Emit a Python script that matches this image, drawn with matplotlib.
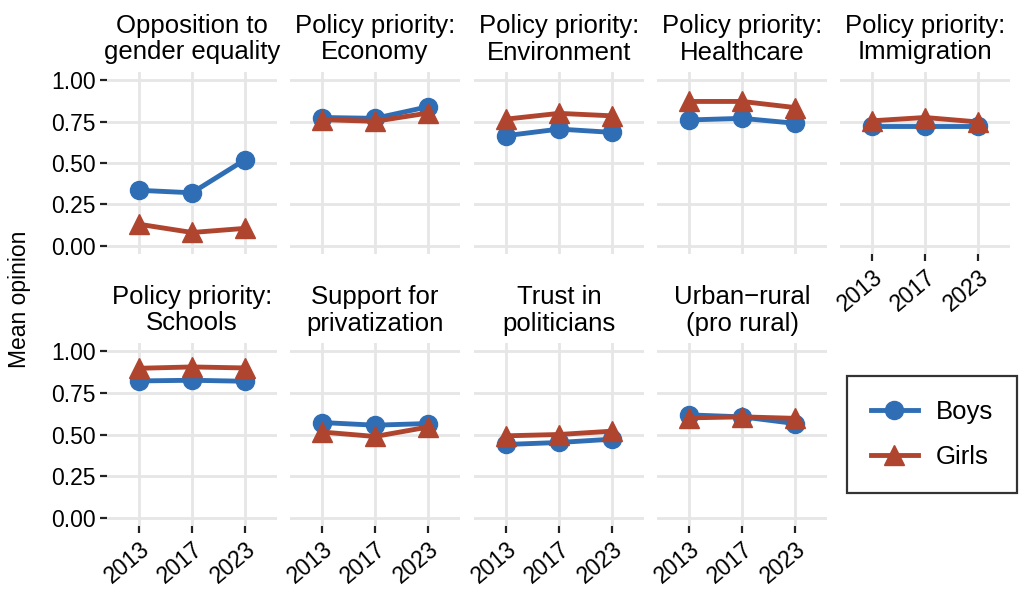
import matplotlib.pyplot as plt
from matplotlib.lines import Line2D

plt.rcParams['font.family'] = ['Liberation Sans', 'DejaVu Sans']

years = ["2013", "2017", "2023"]
titles = [
    "Opposition to\ngender equality",
    "Policy priority:\nEconomy",
    "Policy priority:\nEnvironment",
    "Policy priority:\nHealthcare",
    "Policy priority:\nImmigration",
    "Policy priority:\nSchools",
    "Support for\nprivatization",
    "Trust in\npoliticians",
    "Urban\u2212rural\n(pro rural)",
]
boys = [
    [0.335, 0.320, 0.520],
    [0.775, 0.770, 0.840],
    [0.665, 0.705, 0.685],
    [0.760, 0.770, 0.740],
    [0.725, 0.725, 0.725],
    [0.822, 0.826, 0.820],
    [0.572, 0.556, 0.566],
    [0.440, 0.452, 0.472],
    [0.618, 0.606, 0.566],
]
girls = [
    [0.130, 0.080, 0.105],
    [0.762, 0.752, 0.802],
    [0.765, 0.800, 0.785],
    [0.872, 0.872, 0.835],
    [0.755, 0.775, 0.748],
    [0.898, 0.906, 0.900],
    [0.515, 0.488, 0.545],
    [0.492, 0.500, 0.520],
    [0.600, 0.606, 0.597],
]

blue = "#2f6eb5"
red = "#b0452f"
grid_col = "#e6e6e6"

W, H = 1024, 599
fig = plt.figure(figsize=(W / 100, H / 100), dpi=100)

col_left = [107, 290, 474, 657, 840]
pw = 170
rows = [(72, 254), (343, 526)]

xs = range(len(years))
for i, title in enumerate(titles):
    r, c = divmod(i, 5)
    top, bot = rows[r]
    ax = fig.add_axes([col_left[c] / W, 1 - bot / H, pw / W, (bot - top) / H])
    ax.set_xlim(-0.6, 2.6)
    ax.set_ylim(-0.05, 1.05)
    ax.set_yticks([0, 0.25, 0.5, 0.75, 1.0])
    ax.set_xticks(list(xs))
    ax.grid(True, color=grid_col, linewidth=2)
    ax.set_axisbelow(True)
    for s in ax.spines.values():
        s.set_visible(False)
    ax.plot(xs, boys[i], color=blue, lw=3.5, marker="o", ms=13, zorder=3)
    ax.plot(xs, girls[i], color=red, lw=3.5, marker="^", ms=14, zorder=4)
    ax.set_title(title, fontsize=18.5, pad=9, linespacing=1.12)
    ax.tick_params(axis="both", length=5, width=1.6, color="#222222",
                   labelsize=16.5, pad=3)
    if c == 0:
        ax.set_yticklabels(["0.00", "0.25", "0.50", "0.75", "1.00"])
    else:
        ax.tick_params(axis="y", length=0, labelleft=False)
    if r == 1 or c == 4:
        ax.set_xticklabels(years, rotation=40, ha="right", rotation_mode="anchor")
    else:
        ax.tick_params(axis="x", length=0, labelbottom=False)

fig.text(20 / W, 0.5, "Mean opinion", rotation=90, va="center", ha="center",
         fontsize=16.5)

handles = [
    Line2D([], [], color=blue, lw=3.5, marker="o", ms=13),
    Line2D([], [], color=red, lw=3.5, marker="^", ms=14),
]
leg = fig.legend(handles, ["Boys", "Girls"], loc="center",
                 bbox_to_anchor=(932 / W, 1 - 434.5 / H), fontsize=18.5,
                 frameon=True, fancybox=False, borderpad=0.95, labelspacing=0.8,
                 handlelength=1.8, handletextpad=0.7, borderaxespad=0)
leg.get_frame().set_edgecolor("black")
leg.get_frame().set_linewidth(1.6)

fig.savefig("out.png", dpi=100)
